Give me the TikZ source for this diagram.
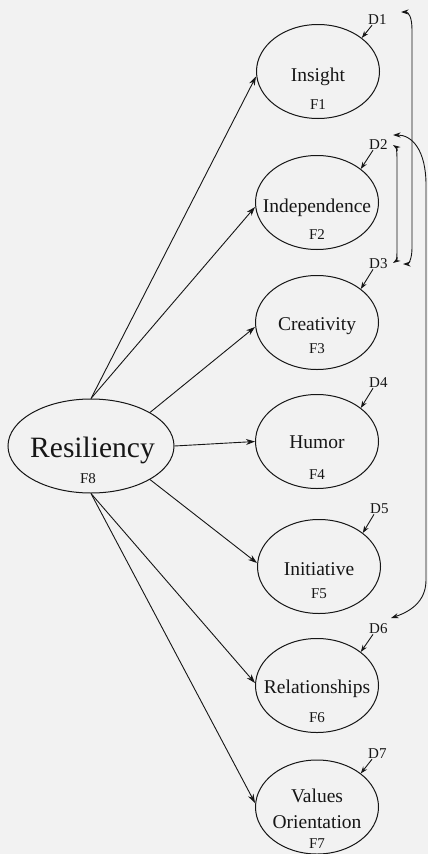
\documentclass[tikz,border=0pt]{standalone}
\usepackage{fontspec}
\setmainfont{Liberation Serif}
\usetikzlibrary{shapes.geometric,arrows.meta,calc}
\definecolor{bg}{RGB}{242,242,242}
\definecolor{ink}{RGB}{22,22,22}
\begin{document}
\begin{tikzpicture}[x=1pt,y=-1pt,
  fac/.style={ellipse, draw=ink, line width=1pt, minimum width=123pt, minimum height=94pt, inner sep=0pt},
  maintxt/.style={anchor=base, inner sep=0pt, text=ink, font=\fontsize{19.5}{24}\selectfont},
  flab/.style={anchor=base, inner sep=0pt, text=ink, font=\fontsize{15}{17}\selectfont},
  dlab/.style={anchor=base west, inner sep=0pt, text=ink, font=\fontsize{15}{17}\selectfont},
  arr/.style={draw=ink, line width=0.9pt, -{Stealth[length=9pt,width=6pt]}},
  darr/.style={draw=ink, line width=0.9pt, -{Stealth[length=7pt,width=5pt]}},
  dbl/.style={draw=ink, line width=0.9pt, {Stealth[length=7.5pt,width=5pt]}-{Stealth[length=7.5pt,width=5pt]}}
]
\fill[bg] (0,0) rectangle (428,854);
\useasboundingbox (0,0) rectangle (428,854);

% factor ellipses
\node[fac] (f1) at (318,71.5) {};
\node[fac] (f2) at (317,202.5) {};
\node[fac] (f3) at (317,322.5) {};
\node[fac] (f4) at (317,441.5) {};
\node[fac] (f5) at (319,566.5) {};
\node[fac] (f6) at (317,685.5) {};
\node[fac] (f7) at (317,807) {};
\node[fac, minimum width=166pt] (f8) at (91,446) {};

% texts
\node[maintxt] (t1) at (318,81) {Insight};
\node[maintxt] (t2) at (317,212) {Independence};
\node[maintxt] (t3) at (317,330) {Creativity};
\node[maintxt] (t4) at (317,448) {Humor};
\node[maintxt] (t5) at (319,575) {Initiative};
\node[maintxt] (t6) at (317,693) {Relationships};
\node[maintxt] (t7a) at (317,802) {Values};
\node[maintxt] (t7b) at (317,828) {Orientation};
\node[maintxt, font=\fontsize{29.5}{34}\selectfont] (t8) at (92.5,457) {Resiliency};

\node[flab] (g1) at (318,109) {F1};
\node[flab] (g2) at (317,239) {F2};
\node[flab] (g3) at (317,353) {F3};
\node[flab] (g4) at (317,479) {F4};
\node[flab] (g5) at (319,598) {F5};
\node[flab] (g6) at (317,722) {F6};
\node[flab] (g7) at (317,848) {F7};
\node[flab] (g8) at (88,483) {F8};

% disturbance labels
\node[dlab] (d1) at (368,24) {D1};
\node[dlab] (d2) at (369,149) {D2};
\node[dlab] (d3) at (369,268) {D3};
\node[dlab] (d4) at (369,387) {D4};
\node[dlab] (d5) at (370,513) {D5};
\node[dlab] (d6) at (369,633) {D6};
\node[dlab] (d7) at (368,758) {D7};

% disturbance arrows
\foreach \i in {1,...,7}{
  \draw[darr] ([xshift=4pt,yshift=-1pt]d\i.south west) -- (f\i.north east);
}

% paths from Resiliency
\draw[arr] (f8.north) -- ([yshift=-5pt]f1.west);
\draw[arr] (f8.north) -- ([yshift=-4.5pt]f2.west);
\draw[arr] (f8.north east) -- ([yshift=-4.5pt]f3.west);
\draw[arr] (f8.east) -- (f4.west);
\draw[arr] (f8.south east) -- ([yshift=3.5pt]f5.west);
\draw[arr] (f8.south) -- ([yshift=2.5pt]f6.west);
\draw[arr] (f8.south) -- ([yshift=4pt]f7.west);

% correlation ends
\coordinate (e1) at (401,12);
\coordinate (e3o) at (403,264);
\coordinate (e2o) at (393,135);
\coordinate (e2i) at (393,145);
\coordinate (e3i) at (393,263);
\coordinate (e6) at (391,618);

\draw[dbl] (e1) .. controls (409,12) and (412,18) .. (412,30) -- (412,248) .. controls (412,258) and (409,264) .. (e3o);
\draw[dbl] (e2i) .. controls (396,147) and (397,152) .. (397,158) -- (397,252) .. controls (397,258) and (396,261) .. (e3i);
\draw[dbl] (e2o) .. controls (412,135) and (426,150) .. (426,185) -- (426,580) .. controls (426,598) and (415,610) .. (e6);
\end{tikzpicture}
\end{document}
